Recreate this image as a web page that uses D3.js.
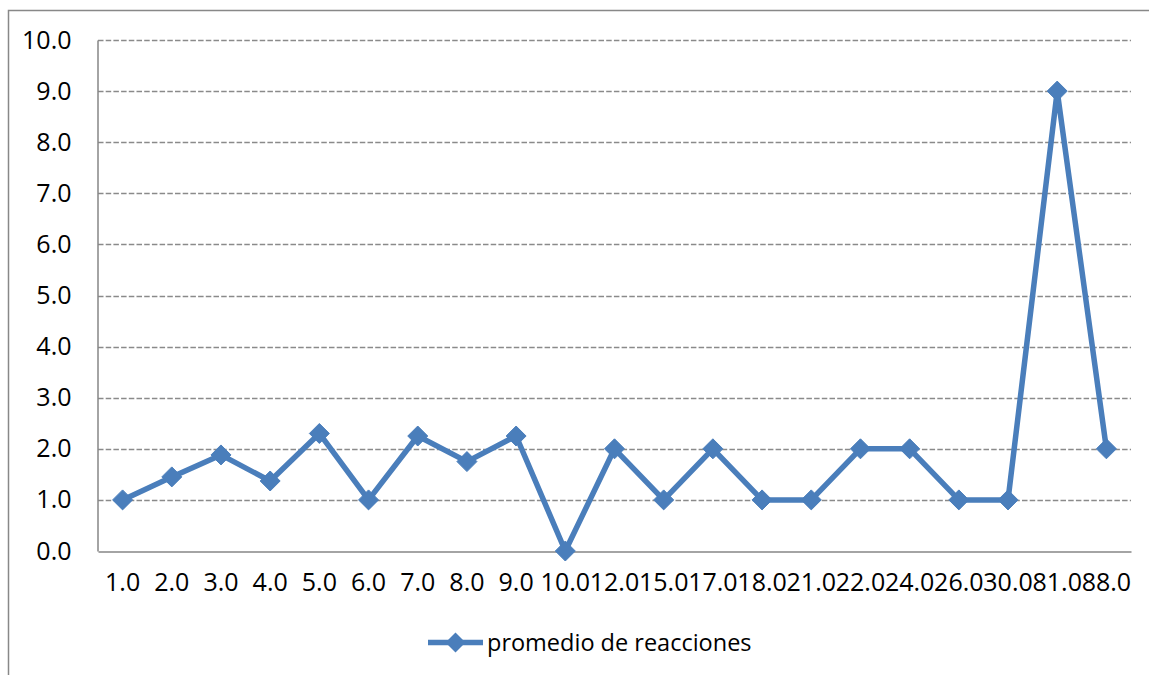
<!DOCTYPE html>
<html><head><meta charset="utf-8">
<script src="https://cdn.jsdelivr.net/npm/d3@7"></script>
<style>body{margin:0;background:#fff}svg{display:block}text{font-family:"Open Sans",sans-serif;fill:#000}</style>
</head><body>
<svg id="c" width="1149" height="675"></svg>
<script>
const categories = ["1.0","2.0","3.0","4.0","5.0","6.0","7.0","8.0","9.0","10.0","12.0","15.0","17.0","18.0","21.0","22.0","24.0","26.0","30.0","81.0","88.0"];
const values = [1.0,1.45,1.88,1.37,2.3,1.0,2.25,1.75,2.25,0,2.0,1.0,2.0,1.0,1.0,2.0,2.0,1.0,1.0,9.0,2.0];
const yTicks = [0,1,2,3,4,5,6,7,8,9,10];
const seriesName = "promedio de reacciones";
const color = "#4a7ebb";

const svg = d3.select("#c");
svg.append("rect").attr("x",8.5).attr("y",10.5).attr("width",1300).attr("height",900)
  .attr("fill","none").attr("stroke","#888").attr("stroke-width",1.5);

const x = d3.scaleBand().domain(categories).range([98,1131]).padding(0);
const y = d3.scaleLinear().domain([0,10]).range([551,40]);

// gridlines
svg.append("g").selectAll("line").data(yTicks.filter(d=>d>0)).join("line")
  .attr("x1",98).attr("x2",1131).attr("y1",d=>Math.round(y(d))+0.5).attr("y2",d=>Math.round(y(d))+0.5)
  .attr("stroke","#8a8a8a").attr("stroke-width",1.3).attr("stroke-dasharray","5.5,2.2");

// axes
const yAxis = d3.axisLeft(y).tickValues(yTicks).tickFormat(d3.format(".1f")).tickSize(0).tickPadding(26);
const gy = svg.append("g").attr("transform","translate(97.5,0)").call(yAxis);
gy.select(".domain").attr("stroke","#868686").attr("stroke-width",1.5);
gy.selectAll("text").attr("font-size",25).attr("font-family","'Open Sans',sans-serif").attr("fill","#000");

const xAxis = d3.axisBottom(x).tickSize(0).tickPadding(22);
const gx = svg.append("g").attr("transform","translate(0,551.5)").call(xAxis);
gx.select(".domain").attr("stroke","#868686").attr("stroke-width",1.5);
gx.selectAll("text").attr("font-size",25).attr("font-family","'Open Sans',sans-serif").attr("fill","#000");

// line
const cx = d => x(d) + x.bandwidth()/2;
const line = d3.line().x((d,i)=>cx(categories[i])).y(d=>y(d));
svg.append("path").datum(values).attr("d",line).attr("fill","none")
  .attr("stroke",color).attr("stroke-width",5.5).attr("stroke-linejoin","round");

const diamond = (px,py,r) => `M${px},${py-r}L${px+r},${py}L${px},${py+r}L${px-r},${py}Z`;
svg.append("g").selectAll("path").data(values).join("path")
  .attr("d",(d,i)=>diamond(cx(categories[i]),y(d),10))
  .attr("fill",color).attr("stroke",color).attr("stroke-width",1);

// legend
const lg = svg.append("g");
lg.append("line").attr("x1",428).attr("x2",483).attr("y1",642.5).attr("y2",642.5)
  .attr("stroke",color).attr("stroke-width",5.5);
lg.append("path").attr("d",diamond(455.5,642.5,10)).attr("fill",color);
lg.append("text").attr("x",487).attr("y",642.5).attr("dy","0.35em").attr("font-size",23.5).text(seriesName);
</script>
</body></html>
